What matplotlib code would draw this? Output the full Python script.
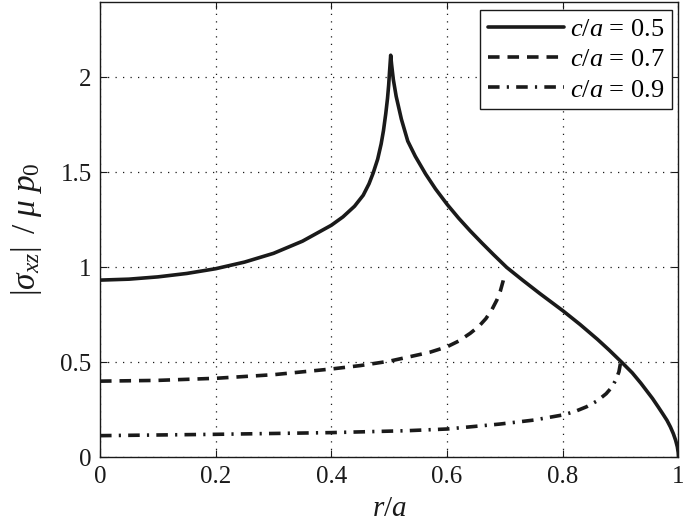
import matplotlib
matplotlib.use("Agg")
import matplotlib.pyplot as plt

plt.rcParams['font.family'] = ['Liberation Serif', 'DejaVu Serif']
plt.rcParams['mathtext.fontset'] = 'custom'
plt.rcParams['mathtext.rm'] = 'Liberation Serif'
plt.rcParams['mathtext.it'] = 'Liberation Serif:italic'
plt.rcParams['mathtext.bf'] = 'Liberation Serif:bold'

# c/a = 0.5
r05 = [0.0, 0.05, 0.1, 0.15, 0.2, 0.25, 0.3, 0.35, 0.4, 0.42, 0.44, 0.455, 0.465, 0.472,
       0.48, 0.486, 0.49, 0.494, 0.497, 0.499, 0.5005, 0.5025,
       0.504, 0.507, 0.512, 0.521, 0.532, 0.545, 0.563, 0.58, 0.6, 0.62, 0.64, 0.66, 0.68,
       0.703, 0.73, 0.76, 0.8, 0.83, 0.86, 0.88, 0.902, 0.92, 0.935, 0.945, 0.955, 0.965,
       0.973, 0.98, 0.986, 0.991, 0.995, 0.998, 0.9995, 1.0]
s05 = [0.933, 0.938, 0.95, 0.968, 0.993, 1.028, 1.074, 1.138, 1.222, 1.266, 1.322, 1.38, 1.44, 1.495,
       1.57, 1.65, 1.72, 1.81, 1.89, 1.96, 2.03, 2.117,
       2.07, 1.99, 1.90, 1.78, 1.665, 1.585, 1.491, 1.413, 1.332, 1.259, 1.192, 1.129, 1.068,
       1.0, 0.934, 0.863, 0.772, 0.699, 0.621, 0.565, 0.50, 0.445, 0.39, 0.35, 0.31, 0.265,
       0.228, 0.195, 0.16, 0.125, 0.09, 0.055, 0.025, 0.0]

# c/a = 0.7
r07 = [0.0, 0.1, 0.2, 0.3, 0.4, 0.45, 0.5, 0.536, 0.57, 0.6, 0.62, 0.64, 0.655, 0.667,
       0.677, 0.686, 0.692, 0.697, 0.7]
s07 = [0.401, 0.405, 0.416, 0.435, 0.465, 0.483, 0.506, 0.53, 0.553, 0.582, 0.612, 0.653, 0.69, 0.73,
       0.775, 0.828, 0.875, 0.93, 0.97]

# c/a = 0.9
r09 = [0.0, 0.2, 0.4, 0.53, 0.6, 0.691, 0.75, 0.8, 0.82, 0.841, 0.86, 0.875, 0.885, 0.892, 0.897, 0.9]
s09 = [0.114, 0.121, 0.13, 0.14, 0.149, 0.175, 0.196, 0.223, 0.24, 0.266, 0.298, 0.335, 0.37, 0.41, 0.45, 0.50]

labels = [r'$c/a$ = 0.5', r'$c/a$ = 0.7', r'$c/a$ = 0.9']
xticks = [0, 0.2, 0.4, 0.6, 0.8, 1]
xticklabels = ['0', '0.2', '0.4', '0.6', '0.8', '1']
yticks = [0, 0.5, 1, 1.5, 2]
yticklabels = ['0', '0.5', '1', '1.5', '2']

fig = plt.figure(figsize=(6.85, 5.28), dpi=100)
ax = fig.add_axes([100/685, 1 - 457.3/528, 578.5/685, 455.8/528])

lw = 2.6
kw = dict(color='#1a1a1a', lw=lw, solid_joinstyle='round', solid_capstyle='round')
ax.plot(r05, s05, linestyle='-', label=labels[0], **kw)
ax.plot(r07, s07, linestyle=(0, (3.2, 2.2)), label=labels[1], **kw)
ax.plot(r09, s09, linestyle=(0, (3.2, 2.0, 0.6, 2.0)), label=labels[2], **kw)

ax.set_xlim(0, 1)
ax.set_ylim(0, 2.4)
ax.set_xticks(xticks)
ax.set_xticklabels(xticklabels)
ax.set_yticks(yticks)
ax.set_yticklabels(yticklabels)
ax.tick_params(direction='in', top=True, right=True, length=5, width=0.8,
               labelsize=18, pad=6, colors='#1a1a1a')
ax.grid(True, color='#1a1a1a', linestyle=(0, (1, 5)), linewidth=0.9)
for sp in ax.spines.values():
    sp.set_linewidth(1.0)
    sp.set_color('#1a1a1a')

ax.set_xlabel(r'$r/a$', fontsize=21, labelpad=6, color='#1a1a1a')
ax.set_ylabel(r'$|\sigma_{xz}|\ \,/\ \mu\ p_0$', fontsize=24, labelpad=12, color='#1a1a1a')

leg = ax.legend(loc='upper right', bbox_to_anchor=(0.9888, 0.9813), fontsize=19,
                handlelength=2.9, handletextpad=0.2, borderpad=0.3, labelspacing=0.25,
                fancybox=False, framealpha=1, edgecolor='#1a1a1a', borderaxespad=0.0)
leg.get_frame().set_linewidth(1.0)

fig.savefig('out.png', dpi=100)
